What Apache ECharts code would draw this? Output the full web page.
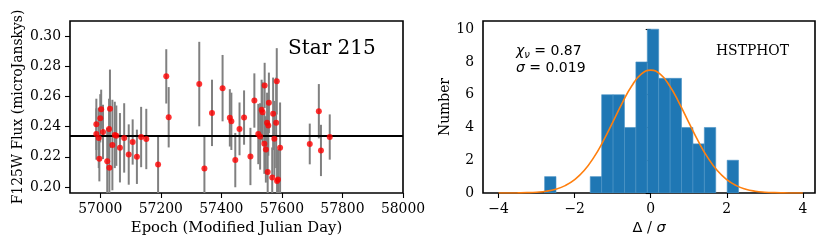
<!DOCTYPE html>
<html><head><meta charset="utf-8">
<script src="https://cdn.jsdelivr.net/npm/echarts@6/dist/echarts.min.js"></script>
<style>html,body{margin:0;padding:0;background:#fff}#c{width:830px;height:249px}</style>
</head><body><div id="c"></div>
<script>
// ---- Left panel: light curve ----
const epochs = [56987,56987,56995,56997,57000,57003,57009,57023,57029,57030,57032,57040,57048,57053,57065,57079,57094,57107,57121,57135,57152,57191,57218,57226,57327,57344,57369,57404,57428,57433,57446,57460,57475,57496,57509,57522,57528,57533,57536,57542,57543,57547,57551,57553,57555,57557,57568,57571,57575,57581,57583,57584,57587,57594,57692,57722,57729,57758];
const fluxes = [0.2415,0.2351,0.2325,0.2187,0.2455,0.2515,0.2365,0.2171,0.2385,0.2127,0.2518,0.2278,0.2345,0.2340,0.2260,0.2325,0.2215,0.2298,0.2200,0.2331,0.2318,0.2149,0.2733,0.2462,0.2682,0.2122,0.2491,0.2655,0.2458,0.2435,0.2178,0.2385,0.2460,0.2202,0.2573,0.2351,0.2335,0.2511,0.2495,0.2287,0.2673,0.2249,0.2425,0.2100,0.2407,0.2558,0.2062,0.2485,0.2320,0.2425,0.2700,0.2040,0.2049,0.2260,0.2285,0.2502,0.2242,0.2331];
const fluxErrs = [0.017,0.017,0.020,0.015,0.016,0.013,0.018,0.022,0.020,0.024,0.026,0.030,0.022,0.020,0.023,0.023,0.020,0.015,0.018,0.020,0.020,0.019,0.018,0.020,0.028,0.022,0.022,0.022,0.019,0.019,0.018,0.0175,0.018,0.019,0.018,0.020,0.022,0.020,0.020,0.020,0.015,0.022,0.020,0.020,0.020,0.020,0.020,0.024,0.025,0.030,0.022,0.020,0.020,0.030,0.0135,0.018,0.017,0.015];
const meanFlux = 0.234;
const xTicksLeft = [57000,57200,57400,57600,57800,58000];
const yTicksLeft = [0.20,0.22,0.24,0.26,0.28,0.30];

// ---- Right panel: histogram of residuals ----
const histEdges = [-2.79,-2.49,-2.19,-1.89,-1.59,-1.29,-0.99,-0.69,-0.39,-0.09,0.21,0.51,0.81,1.11,1.41,1.71,2.01,2.31];
const histCounts = [1,0,0,0,1,6,6,4,8,10,7,7,4,3,4,0,2];
const gaussX = [-4,-3.75,-3.5,-3.25,-3,-2.75,-2.5,-2.25,-2,-1.75,-1.5,-1.25,-1,-0.75,-0.5,-0.25,0,0.25,0.5,0.75,1,1.25,1.5,1.75,2,2.25,2.5,2.75,3,3.25,3.5,3.75,4];
const gaussY = [0.001,0.003,0.008,0.02,0.05,0.11,0.23,0.45,0.82,1.37,2.16,3.16,4.31,5.49,6.53,7.25,7.5,7.25,6.53,5.49,4.31,3.16,2.16,1.37,0.82,0.45,0.23,0.11,0.05,0.02,0.008,0.003,0.001];
const xTicksRight = [-4,-2,0,2,4];
const yTicksRight = [0,2,4,6,8,10];

const SERIF = '"DejaVu Serif", serif';
const SANS = '"DejaVu Sans", sans-serif';
const FS = 13.9;

const chart = echarts.init(document.getElementById('c'), null, {renderer:'canvas'});

function axisCommon(ticks, fmt) {
  return {
    axisLine:{show:false},
    splitLine:{show:false},
    axisTick:{show:true, inside:false, length:5, lineStyle:{color:'#000', width:1.1}, customValues:ticks},
    axisLabel:{customValues:ticks, formatter:fmt, fontFamily:SERIF, fontSize:FS, color:'#000', margin:9},
    nameTextStyle:{fontFamily:SERIF, fontSize:FS, color:'#000'}
  };
}

const option = {
  animation:false,
  backgroundColor:'#fff',
  grid:[
    {left:70, top:21, width:333, height:172, show:true, borderColor:'#000', borderWidth:1.6, backgroundColor:'transparent', containLabel:false},
    {left:483, top:21, width:332, height:172, show:true, borderColor:'#000', borderWidth:1.6, backgroundColor:'transparent', containLabel:false}
  ],
  xAxis:[
    Object.assign(axisCommon(xTicksLeft, v=>String(v)), {gridIndex:0, type:'value', min:56900, max:58000,
      name:'Epoch (Modified Julian Day)', nameLocation:'middle', nameGap:28,
      nameTextStyle:{fontFamily:SERIF, fontSize:14.8, color:'#000'}}),
    Object.assign(axisCommon(xTicksRight, v=> v<0 ? '\u2212'+Math.abs(v) : String(v)), {gridIndex:1, type:'value', min:-4.41, max:4.32,
      name:'{a|Δ}{b| / }{c|σ}', nameLocation:'middle', nameGap:28,
      nameTextStyle:{fontFamily:SERIF, fontSize:14.5, color:'#000', rich:{
        a:{fontFamily:SANS, fontSize:14.5, color:'#000'},
        b:{fontFamily:SERIF, fontSize:14.5, color:'#000'},
        c:{fontFamily:SANS, fontStyle:'italic', fontSize:14.5, color:'#000'}}}})
  ],
  yAxis:[
    Object.assign(axisCommon(yTicksLeft, v=>v.toFixed(2)), {gridIndex:0, type:'value', min:0.196, max:0.31,
      name:'F125W Flux (microJanskys)', nameLocation:'middle', nameGap:45}),
    Object.assign(axisCommon(yTicksRight, v=>String(v)), {gridIndex:1, type:'value', min:0, max:10.5,
      name:'Number', nameLocation:'middle', nameGap:28})
  ],
  series:[
    {
      type:'custom', xAxisIndex:0, yAxisIndex:0, clip:true, z:1,
      data: epochs.map((e,i)=>[e, fluxes[i]-fluxErrs[i], fluxes[i]+fluxErrs[i]]),
      encode:{x:0, y:[1,2]},
      renderItem:function(params, api){
        const a = api.coord([api.value(0), api.value(1)]);
        const b = api.coord([api.value(0), api.value(2)]);
        return {type:'line', shape:{x1:a[0], y1:a[1], x2:b[0], y2:b[1]}, style:{stroke:'#808080', lineWidth:2}};
      }
    },
    {
      type:'scatter', xAxisIndex:0, yAxisIndex:0, z:3, clip:true,
      symbol:'circle', symbolSize:6, itemStyle:{color:'#ff0000'},
      data: epochs.map((e,i)=>[e, fluxes[i]]),
      markLine:{silent:true, symbol:'none', precision:6, label:{show:false}, animation:false, z:2,
        lineStyle:{color:'#000', width:1.8, type:'solid'}, data:[{yAxis:meanFlux}]}
    },
    {
      type:'custom', xAxisIndex:1, yAxisIndex:1, clip:true, z:1,
      data: histCounts.map((c,i)=>[histEdges[i], histEdges[i+1], c]),
      encode:{x:[0,1], y:2},
      renderItem:function(params, api){
        const c = api.value(2);
        if (!c) return null;
        const p0 = api.coord([api.value(0), 0]);
        const p1 = api.coord([api.value(1), c]);
        return {type:'rect', shape:{x:p0[0], y:p1[1], width:p1[0]-p0[0], height:p0[1]-p1[1]},
          style:{fill:'#1f77b4', stroke:'#4b93c6', lineWidth:0.6}};
      }
    },
    {
      type:'line', xAxisIndex:1, yAxisIndex:1, z:2, smooth:true, symbol:'none', clip:true,
      lineStyle:{color:'#ff7f0e', width:1.6},
      data: gaussX.map((x,i)=>[x, gaussY[i]])
    }
  ],
  graphic:[
    {type:'text', x:288, y:49, style:{text:'Star 215', font:'20px "DejaVu Serif"', fill:'#000', align:'left', verticalAlign:'middle'}},
    {type:'text', x:716, y:51, style:{text:'HSTPHOT', font:'13.9px "DejaVu Serif"', fill:'#000', align:'left', verticalAlign:'middle'}},
    {type:'text', x:516, y:51, style:{text:'{i|χ}{s|ν}{n| = 0.87}', align:'left', verticalAlign:'middle',
      rich:{i:{fontFamily:SANS, fontStyle:'italic', fontSize:14, lineHeight:18, verticalAlign:'middle', fill:'#000'},
            s:{fontFamily:SANS, fontStyle:'italic', fontSize:10, lineHeight:10, verticalAlign:'bottom', fill:'#000'},
            n:{fontFamily:SANS, fontSize:14, lineHeight:18, verticalAlign:'middle', fill:'#000'}}}},
    {type:'text', x:516, y:68, style:{text:'{i|σ}{n| = 0.019}', align:'left', verticalAlign:'middle',
      rich:{i:{fontFamily:SANS, fontStyle:'italic', fontSize:14, lineHeight:18, fill:'#000'},
            n:{fontFamily:SANS, fontSize:14, lineHeight:18, fill:'#000'}}}}
  ]
};
chart.setOption(option);
</script>
</body></html>
